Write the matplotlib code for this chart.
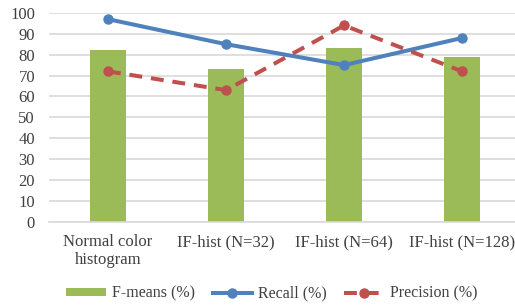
from matplotlib import pyplot as plt

import numpy as np

categories = ['Normal color\nhistogram', 'IF-hist (N=32)',
              'IF-hist (N=64)', 'IF-hist (N=128)']
f_means = [82, 73, 83, 79]
recall = [97, 85, 75, 88]
precision = [72, 63, 94, 72]
y_ticks = list(range(0, 101, 10))

plt.rcParams['font.family'] = ['Liberation Serif', 'DejaVu Serif']

fig = plt.figure(figsize=(5.15, 3.07), dpi=100)
# plot area runs a bit past the right edge, like the cropped original
ax = fig.add_axes([0.095, 0.278, 0.917, 0.680])

x = np.arange(len(categories))
bars = ax.bar(x, f_means, width=0.31, color='#9BBB59',
              label='F-means (%)', zorder=2)
line_r, = ax.plot(x, recall, color='#4F81BD', lw=2.9, marker='o', ms=6.5,
                  label='Recall (%)', zorder=3)
line_p, = ax.plot(x, precision, color='#C0504D', lw=2.9, marker='o',
                  ms=6.5, dashes=(3.2, 2.2), label='Precision (%)',
                  zorder=3)

ax.set_xlim(-0.5, 3.5)
ax.set_ylim(0, 100)
ax.set_yticks(y_ticks)
ax.set_xticks(x)
ax.set_xticklabels(categories, fontsize=12, color='#404040',
                   linespacing=1.15)
ax.tick_params(axis='y', labelsize=12, labelcolor='#404040', length=0,
               pad=10)
ax.tick_params(axis='x', length=0, pad=9)
ax.yaxis.grid(True, color='#D9D9D9', lw=1.2, zorder=0)
for side in ['top', 'right', 'left']:
    ax.spines[side].set_visible(False)
ax.spines['bottom'].set_color('#D9D9D9')
ax.spines['bottom'].set_linewidth(1.2)

fig.legend([bars, line_r, line_p],
           ['F-means (%)', 'Recall (%)', 'Precision (%)'],
           loc='center', bbox_to_anchor=(0.528, 0.043), ncol=3,
           frameon=False, fontsize=11.5, handlelength=2.5,
           handleheight=0.45, columnspacing=1.1, handletextpad=0.35,
           labelcolor='#404040', borderpad=0)

fig.savefig('out.png', dpi=100)
